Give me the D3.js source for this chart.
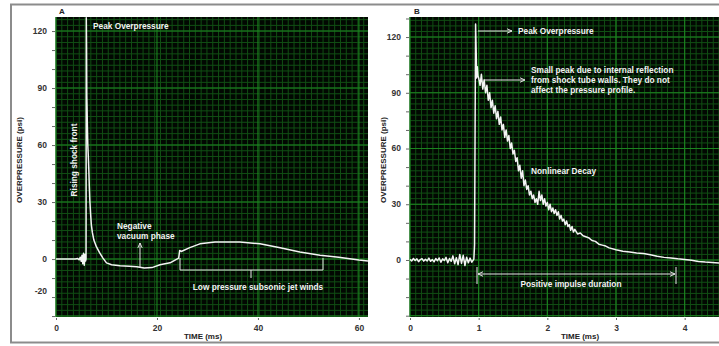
<!DOCTYPE html>
<html><head><meta charset="utf-8">
<script src="https://cdn.jsdelivr.net/npm/d3@7"></script>
<style>
html,body{margin:0;padding:0;background:#fff;}
svg{display:block;font-family:"Liberation Sans",Arial,sans-serif;}
</style></head>
<body><svg id="c" width="719" height="346"></svg>
<script>
// ---- Panel A data: time (ms), overpressure (psi)
const timeA = [0,3.8,4.3,4.6,4.8,5.0,5.15,5.3,5.45,5.6,5.75,5.85,5.95,6.0,6.05,6.1,6.15,6.2,6.3,6.4,6.5,6.6,6.7,6.85,7.0,7.2,7.5,8.0,8.6,9.3,10,11,12.7,14.5,16,17.5,19,20.6,22.6,24.3,24.5,24.8,26.5,28.5,31.5,36.4,40.4,44.4,48.3,52.3,56,60,61.8];
const psiA  = [0,0,0.3,-0.4,1,-1.2,2,-2.5,3,-3.2,2.5,-1,0,127,113,86,80,72,60,54,47,38,31,24,18,14,10,6.5,3.5,0.5,-2,-3,-3.5,-3.8,-4,-4.7,-4.5,-3,-2,0.5,4.5,4,6,8,9,9,8,6,3.7,2,1,-0.5,-1];
const ticksXA = [0,20,40,60];
const ticksYA = [0,30,60,90,120];

// ---- Panel B data
const timeB = [0,0.025,0.05,0.075,0.1,0.125,0.15,0.175,0.2,0.225,0.25,0.275,0.3,0.325,0.35,0.375,0.4,0.425,0.45,0.475,0.5,0.525,0.55,0.575,0.6,0.625,0.65,0.675,0.7,0.725,0.75,0.775,0.8,0.825,0.85,0.875,0.9,0.93,0.94,0.955,0.965,0.97,0.98,0.99,
  1.00,1.02,1.04,1.06,1.08,1.10,1.12,1.14,1.16,1.18,1.20,1.22,1.24,1.26,1.28,1.30,1.32,1.34,1.36,1.38,1.40,1.42,1.44,1.46,1.48,1.50,1.52,1.54,1.56,1.58,1.60,1.62,1.64,1.66,1.68,1.70,1.72,1.74,1.76,1.78,1.80,1.82,1.84,1.86,1.88,1.90,1.92,1.94,1.96,1.98,2.00,2.02,2.04,2.06,2.08,2.10,2.12,2.14,2.16,2.18,2.20,2.22,2.24,2.26,2.28,2.30,2.32,2.34,2.36,2.38,2.40,2.44,2.48,2.52,
  2.56,2.6,2.65,2.7,2.75,2.8,2.85,2.9,3.0,3.1,3.2,3.3,3.4,3.5,3.6,3.7,3.8,3.9,4.0,4.1,4.2,4.3,4.4,4.5];
const psiB  = [0.3,-0.5,0.8,-0.3,0.6,-0.9,0.2,0.7,-0.6,0.4,-0.5,1.0,-0.7,0.2,-1.0,0.8,-0.4,1.1,-1.2,0.6,-0.3,1.4,-1.5,0.8,-0.7,2.2,-2,1.2,-2.5,3,-1.8,2.5,-3,1.5,-1.5,1,-1.2,0.5,8,127,110,98,104,99,
  98,94,100,92,97,90,94,86,90,82,86,79,83,76,80,73,77,70,73,66,70,64,67,60,63,57,59,53,55,48,51,44,48,40,43,38,40,35,37,33,35,31,33,30,37,32,35,30,33,29,31,27,30,26,28,25,27,24,26,22,24,21,22,19,21,18,19,16,18,15,16.5,14,14.5,13,
  12.5,12,10.5,10,8.5,8,7.5,6.5,5.5,4.7,4.3,3.8,3.5,2.8,2,1.4,1,0.6,0.3,-0.2,-0.8,-1.1,-1.3,-1.6];
const ticksXB = [0,1,2,3,4];
const ticksYB = [0,30,60,90,120];

const svg = d3.select("#c");
const FONT = '"Liberation Sans",Arial,sans-serif';

// outer frame
svg.append("rect").attr("x",11).attr("y",4.5).attr("width",730).attr("height",338)
  .attr("fill","none").attr("stroke","#8c8c8c").attr("stroke-width",2);

svg.append("defs").html(
 '<marker id="ah" viewBox="0 0 10 10" refX="9" refY="5" markerWidth="6" markerHeight="6" orient="auto-start-reverse"><path d="M0,1 L9,5 L0,9" fill="none" stroke="#e8e8e8" stroke-width="1.6"/></marker>');

function panel(cfg){
  const x = d3.scaleLinear().domain(cfg.xd).range(cfg.xr);
  const y = d3.scaleLinear().domain(cfg.yd).range([317,17]);
  const g = svg.append("g");
  const [x0,x1] = cfg.xr;
  g.append("rect").attr("x",x0).attr("y",17).attr("width",x1-x0).attr("height",300).attr("fill","#020802");
  // minor grid
  const gv = d3.range(cfg.xd[0], cfg.xd[1]+1e-9, cfg.xminor);
  g.selectAll(".mv").data(gv).enter().append("line")
    .attr("x1",d=>x(d)).attr("x2",d=>x(d)).attr("y1",17).attr("y2",317)
    .attr("stroke","#114f14").attr("stroke-width",1);
  const gh = d3.range(-30, cfg.yd[1], 3);
  g.selectAll(".mh").data(gh).enter().append("line")
    .attr("y1",d=>y(d)).attr("y2",d=>y(d)).attr("x1",x0).attr("x2",x1)
    .attr("stroke","#114f14").attr("stroke-width",1);
  // major grid
  g.selectAll(".Mv").data(cfg.tx).enter().append("line")
    .attr("x1",d=>x(d)).attr("x2",d=>x(d)).attr("y1",17).attr("y2",317)
    .attr("stroke","#1c8420").attr("stroke-width",1.1);
  g.selectAll(".Mh").data(cfg.ty.concat([-30])).enter().append("line")
    .attr("y1",d=>y(d)).attr("y2",d=>y(d)).attr("x1",x0).attr("x2",x1)
    .attr("stroke","#1c8420").attr("stroke-width",1.1);

  // y axis minor ticks & labels
  const yAx = d3.axisLeft(y).tickValues(d3.range(-30,cfg.yd[1],10)).tickSize(3).tickFormat("");
  g.append("g").attr("transform",`translate(${x0-1},0)`).call(yAx)
    .call(s=>s.select(".domain").remove())
    .call(s=>s.selectAll("line").attr("stroke","#666"));
  g.selectAll(".yl").data(cfg.tyLabels).enter().append("text")
    .attr("x",x0-9).attr("y",d=>y(d.v)).attr("dy","0.35em").attr("text-anchor","end")
    .attr("font-size",8.5).attr("font-weight","bold").attr("fill","#333").attr("font-family",FONT)
    .text(d=>d.t);
  // x axis
  const xAx = d3.axisBottom(x).tickValues(cfg.tx).tickSize(2).tickFormat(d3.format("d"));
  g.append("g").attr("transform","translate(0,318)").call(xAx)
    .call(s=>s.select(".domain").remove())
    .call(s=>s.selectAll("line").attr("stroke","#666"))
    .call(s=>s.selectAll("text").attr("font-size",8.5).attr("font-weight","bold").attr("fill","#333").attr("font-family",FONT).attr("dy","0.9em"));

  // trace
  const data = cfg.t.map((t,i)=>[t,cfg.p[i]]);
  g.append("path").datum(data)
    .attr("d",d3.line().x(d=>x(d[0])).y(d=>y(d[1])))
    .attr("fill","none").attr("stroke","#f4f4f4").attr("stroke-width",1.5).attr("stroke-linejoin","round");

  // titles
  g.append("text").attr("transform",`translate(${cfg.ytx},160) rotate(-90)`).attr("text-anchor","middle")
    .attr("font-size",8).attr("font-weight","bold").attr("fill","#222").attr("font-family",FONT).text("OVERPRESSURE (psi)");
  g.append("text").attr("x",cfg.xtx).attr("y",339).attr("text-anchor","middle")
    .attr("font-size",8).attr("font-weight","bold").attr("fill","#222").attr("font-family",FONT).text("TIME (ms)");
  g.append("text").attr("x",cfg.lx).attr("y",14).attr("text-anchor","middle")
    .attr("font-size",8).attr("font-weight","bold").attr("fill","#222").attr("font-family",FONT).text(cfg.label);
  return {g,x,y};
}

const A = panel({xd:[0,61.8], xr:[56,368], yd:[-30.5,127.4], xminor:1.15, tx:ticksXA, ty:ticksYA,
  tyLabels: ticksYA.map(v=>({v,t:String(v)})).concat([{v:-17,t:"-20"}]),
  t:timeA, p:psiA, ytx:22, xtx:203, lx:62, label:"A"});
const B = panel({xd:[0,4.5], xr:[410,719], yd:[-30.7,130.8], xminor:1/12, tx:ticksXB, ty:ticksYB,
  tyLabels: ticksYB.map(v=>({v,t:String(v)})),
  t:timeB, p:psiB, ytx:386, xtx:580, lx:417, label:"B"});

function wtxt(g,x,y,t,anchor){
  return g.append("text").attr("x",x).attr("y",y).attr("text-anchor",anchor||"start")
    .attr("font-size",8.3).attr("font-weight","bold").attr("fill","#f2f2f2").attr("font-family",FONT).text(t);
}
const lc = "#e8e8e8";
// Panel A annotations
wtxt(A.g,93,29,"Peak Overpressure");
A.g.append("text").attr("transform","translate(77,160) rotate(-90)").attr("text-anchor","middle")
  .attr("font-size",8.3).attr("font-weight","bold").attr("fill","#f2f2f2").attr("font-family",FONT).text("Rising shock front");
wtxt(A.g,117,229,"Negative");
wtxt(A.g,117,239,"vacuum phase");
A.g.append("line").attr("x1",140).attr("x2",140).attr("y1",268).attr("y2",243)
  .attr("stroke",lc).attr("stroke-width",1).attr("marker-end","url(#ah)");
A.g.append("path").attr("d","M180,258 L180,270 L323,270 L323,258 M251,270 L251,278")
  .attr("fill","none").attr("stroke",lc).attr("stroke-width",1);
wtxt(A.g,258,290,"Low pressure subsonic jet winds","middle");

// Panel B annotations
B.g.append("line").attr("x1",478).attr("x2",512).attr("y1",31).attr("y2",31)
  .attr("stroke",lc).attr("stroke-width",1).attr("marker-end","url(#ah)");
wtxt(B.g,518,34,"Peak Overpressure");
B.g.append("line").attr("x1",485).attr("x2",525).attr("y1",80).attr("y2",80)
  .attr("stroke",lc).attr("stroke-width",1).attr("marker-end","url(#ah)");
wtxt(B.g,531,73,"Small peak due to internal reflection");
wtxt(B.g,531,83,"from shock tube walls. They do not");
wtxt(B.g,531,93,"affect the pressure profile.");
wtxt(B.g,531,174,"Nonlinear Decay");
B.g.append("line").attr("x1",478).attr("x2",675).attr("y1",274).attr("y2",274)
  .attr("stroke",lc).attr("stroke-width",1).attr("marker-start","url(#ah)").attr("marker-end","url(#ah)");
B.g.append("path").attr("d","M477,267 L477,284 M676,267 L676,284").attr("stroke",lc).attr("stroke-width",1);
wtxt(B.g,571,287,"Positive impulse duration","middle");
</script></body></html>
